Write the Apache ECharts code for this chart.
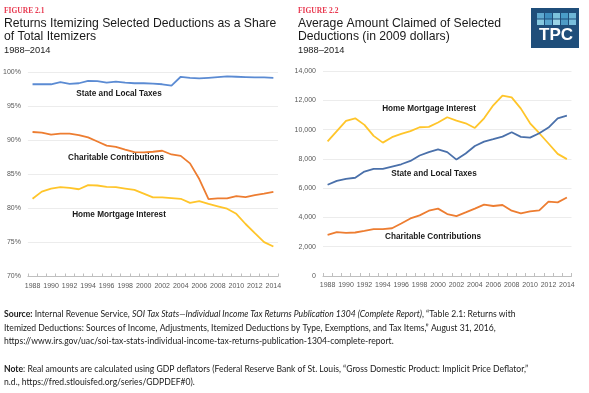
<!DOCTYPE html>
<html><head><meta charset="utf-8">
<script src="https://cdn.jsdelivr.net/npm/echarts@6/dist/echarts.min.js"></script>
<style>html,body{margin:0;padding:0;background:#fff}#c{width:589px;height:393px}</style>
</head><body><div id="c"></div>
<script>
const years = ['1988','1989','1990','1991','1992','1993','1994','1995','1996','1997','1998','1999','2000','2001','2002','2003','2004','2005','2006','2007','2008','2009','2010','2011','2012','2013','2014'];
// Figure 2.1: share of itemizers (%)
const shareStateLocal = [98.2,98.2,98.2,98.5,98.25,98.35,98.7,98.65,98.45,98.6,98.45,98.35,98.35,98.3,98.2,98.0,99.3,99.15,99.05,99.15,99.25,99.35,99.3,99.25,99.2,99.2,99.15];
const shareCharitable = [91.2,91.1,90.8,90.95,90.95,90.75,90.4,89.8,89.2,89.0,88.6,88.25,88.2,88.3,88.45,87.9,87.7,86.6,84.3,81.35,81.45,81.45,81.8,81.65,81.95,82.15,82.4];
const shareMortgage = [81.4,82.45,82.9,83.1,83.0,82.8,83.4,83.35,83.15,83.1,82.9,82.7,82.15,81.6,81.6,81.5,81.4,80.8,81.05,80.65,80.3,79.95,79.2,77.7,76.35,75.05,74.4];
// Figure 2.2: average amount claimed (2009 dollars)
const amtMortgage = [9200,9900,10590,10770,10320,9570,9110,9480,9700,9890,10160,10180,10480,10840,10610,10430,10110,10770,11660,12320,12200,11430,10430,9750,9050,8340,7980];
const amtStateLocal = [6230,6500,6640,6710,7130,7310,7310,7470,7630,7860,8230,8460,8640,8460,7950,8370,8880,9180,9340,9520,9820,9500,9450,9750,10140,10770,10950];
const amtCharitable = [2810,2990,2940,2970,3080,3200,3200,3260,3590,3930,4140,4460,4600,4230,4090,4340,4600,4870,4780,4850,4460,4280,4410,4480,5080,5030,5360];
const shareTicks = [70,75,80,85,90,95,100];

const axisLbl = {color:'#595959', fontSize:7, fontFamily:'Liberation Sans'};
function xAxis(gi){
  return {type:'category', gridIndex:gi, data:years, boundaryGap:true,
    axisLine:{lineStyle:{color:'#bfbfbf'}},
    axisTick:{show:true, inside:true, length:3, interval:0, lineStyle:{color:'#bfbfbf'}},
    axisLabel:Object.assign({interval:1, margin:6}, axisLbl),
    splitLine:{show:false}};
}
const gridLine = {show:true, lineStyle:{color:'#ececec', width:1}};
const lbl = (x,y,t)=>({type:'text', x:x, y:y, style:{text:t, font:'bold 8.2px "Liberation Sans"', fill:'#1a1a1a', align:'center', verticalAlign:'middle'}});
const ttl = (x,y,t,f,c)=>({type:'text', x:x, y:y, style:{text:t, font:f, fill:c||'#1a1a1a', verticalAlign:'middle'}});

const squares = [];
const sqColors = [['#5fa9cf','#3f8fbf','#7cc2dc','#4a9dc8','#6db6d6'],['#86c9e0','#5aa7cf','#9ad4e6','#4f9cc6','#78bedc']];
for(let r=0;r<2;r++) for(let c=0;c<5;c++){
  squares.push({type:'rect', shape:{x:537+c*8, y:13+r*6.5, width:7, height:5.5}, style:{fill:sqColors[r][c]}});
}

const FS = 8.6;
const footRich = {
  b:{fontWeight:'bold', fontFamily:'Lato', fontSize:FS, fill:'#1a1a1a'},
  i:{fontStyle:'italic', fontFamily:'Lato', fontSize:FS, fill:'#1a1a1a'},
  n:{fontFamily:'Lato', fontSize:FS, fill:'#1a1a1a'}
};
const foot = (y,t)=>({type:'text', x:4, y:y, style:{text:t, rich:footRich, font:FS+'px Lato', fill:'#1a1a1a', verticalAlign:'middle'}});

const chart = echarts.init(document.getElementById('c'), null, {renderer:'canvas'});
chart.setOption({
  animation:false,
  grid:[{left:27, top:72, right:311, bottom:116.5},{left:323, top:71, right:17.5, bottom:117}],
  xAxis:[xAxis(0), xAxis(1)],
  yAxis:[
    {type:'value', gridIndex:0, min:shareTicks[0], max:shareTicks[shareTicks.length-1], interval:5,
     axisLine:{show:false}, axisTick:{show:false}, splitLine:gridLine,
     axisLabel:Object.assign({formatter:'{value}%', margin:7}, axisLbl)},
    {type:'value', gridIndex:1, min:0, max:14000, interval:2000,
     axisLine:{show:false}, axisTick:{show:false}, splitLine:gridLine,
     axisLabel:Object.assign({formatter:v=>v.toLocaleString('en-US'), margin:7}, axisLbl)}
  ],
  series:[
    {type:'line', xAxisIndex:0, yAxisIndex:0, data:shareStateLocal, symbol:'none', lineStyle:{color:'#5b8bd3', width:1.8}},
    {type:'line', xAxisIndex:0, yAxisIndex:0, data:shareCharitable, symbol:'none', lineStyle:{color:'#ed7d31', width:1.8}},
    {type:'line', xAxisIndex:0, yAxisIndex:0, data:shareMortgage, symbol:'none', lineStyle:{color:'#ffc52a', width:1.8}},
    {type:'line', xAxisIndex:1, yAxisIndex:1, data:amtMortgage, symbol:'none', lineStyle:{color:'#ffc52a', width:1.8}},
    {type:'line', xAxisIndex:1, yAxisIndex:1, data:amtStateLocal, symbol:'none', lineStyle:{color:'#4a70aa', width:1.8}},
    {type:'line', xAxisIndex:1, yAxisIndex:1, data:amtCharitable, symbol:'none', lineStyle:{color:'#ed7d31', width:1.8}}
  ],
  graphic:[
    ttl(4,11,'FIGURE 2.1','bold 7.5px "Liberation Serif"','#e8384f'),
    ttl(4,24,'Returns Itemizing Selected Deductions as a Share','12.2px "Liberation Sans"'),
    ttl(4,37,'of Total Itemizers','12.2px "Liberation Sans"'),
    ttl(4,50,'1988–2014','9.3px "Liberation Sans"'),
    ttl(298,11,'FIGURE 2.2','bold 7.5px "Liberation Serif"','#e8384f'),
    ttl(298,24,'Average Amount Claimed of Selected','12.2px "Liberation Sans"'),
    ttl(298,37,'Deductions (in 2009 dollars)','12.2px "Liberation Sans"'),
    ttl(298,50,'1988–2014','9.3px "Liberation Sans"'),
    {type:'rect', shape:{x:531, y:8, width:48, height:40}, style:{fill:'#1f4e7a'}},
    ...squares,
    {type:'text', x:556, y:35.5, style:{text:'TPC', font:'bold 17px "Liberation Sans"', fill:'#ffffff', align:'center', verticalAlign:'middle'}},
    lbl(119,94,'State and Local Taxes'),
    lbl(116,158,'Charitable Contributions'),
    lbl(119,214.5,'Home Mortgage Interest'),
    lbl(429,108.5,'Home Mortgage Interest'),
    lbl(434,174,'State and Local Taxes'),
    lbl(433,236.5,'Charitable Contributions'),
    foot(314.3,'{b|Source:}{n| Internal Revenue Service, }{i|SOI Tax Stats—Individual Income Tax Returns Publication 1304 (Complete Report)}{n|, “Table 2.1: Returns with}'),
    foot(328,'{n|Itemized Deductions: Sources of Income, Adjustments, Itemized Deductions by Type, Exemptions, and Tax Items,” August 31, 2016,}'),
    foot(341.7,'{n|https://www.irs.gov/uac/soi-tax-stats-individual-income-tax-returns-publication-1304-complete-report.}'),
    foot(369.3,'{b|Note}{n|: Real amounts are calculated using GDP deflators (Federal Reserve Bank of St. Louis, “Gross Domestic Product: Implicit Price Deflator,”}'),
    foot(382,'{n|n.d., https://fred.stlouisfed.org/series/GDPDEF#0).}')
  ]
});
</script></body></html>
